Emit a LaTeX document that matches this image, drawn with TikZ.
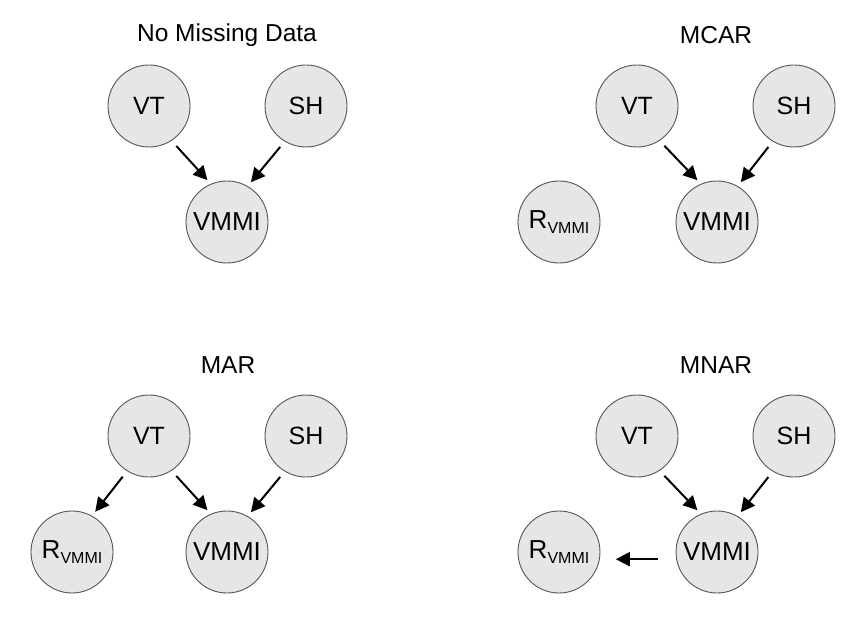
\documentclass[tikz,border=0pt]{standalone}
\usepackage{fontspec}
\setmainfont{Liberation Sans}
\usetikzlibrary{arrows.meta}
\definecolor{nodefill}{HTML}{E6E6E8}
\definecolor{nodeline}{HTML}{555555}
\tikzset{
  var/.style={circle, draw=nodeline, line width=0.9pt, fill=nodefill, minimum size=82pt, inner sep=0pt, font=\fontsize{25}{28}\selectfont},
  big/.style={font=\fontsize{26}{29}\selectfont},
  title/.style={font=\fontsize{24.5}{27}\selectfont},
  edge/.style={line width=2pt, -{Triangle[length=14pt,width=14pt]}}
}
\newcommand{\rvmmi}{R\raisebox{-5pt}{\fontsize{16}{17}\selectfont VMMI}}

\begin{document}
\begin{tikzpicture}[x=1pt, y=-1pt]
    \useasboundingbox (0,0) rectangle (866,617);
    %the titles
    \node[title] (t1) at (227,35) {No Missing Data};
    \node[title] (t2) at (716,35) {MCAR};
    \node[title] (t3) at (228,365) {MAR};
    \node[title] (t4) at (716,365) {MNAR};
    %no missing data
    \node[var] (vt1) at (149,106) {VT};
    \node[var] (sh1) at (306,106) {SH};
    \node[var, big] (vmmi1) at (227,222) {VMMI};
    %mcar
    \node[var] (vt2) at (637,106) {VT};
    \node[var] (sh2) at (794,106) {SH};
    \node[var, big] (vmmi2) at (717,222) {VMMI};
    \node[var, big] (r2) at (559,222) {\rvmmi};
    %mar
    \node[var] (vt3) at (149,436) {VT};
    \node[var] (sh3) at (306,436) {SH};
    \node[var, big] (vmmi3) at (227,552) {VMMI};
    \node[var, big] (r3) at (72,552) {\rvmmi};
    %mnar
    \node[var] (vt4) at (637,436) {VT};
    \node[var] (sh4) at (794,436) {SH};
    \node[var, big] (vmmi4) at (717,552) {VMMI};
    \node[var, big] (r4) at (559,552) {\rvmmi};
    %the arrows
    \draw[edge, shorten <=7pt, shorten >=5pt] (vt1.-57) -- (vmmi1.113);
    \draw[edge, shorten <=7pt, shorten >=5pt] (sh1.-121) -- (vmmi1.60);
    \draw[edge, shorten <=7pt, shorten >=5pt] (vt2.-57) -- (vmmi2.113);
    \draw[edge, shorten <=7pt, shorten >=5pt] (sh2.-121) -- (vmmi2.60);
    \draw[edge, shorten <=7pt, shorten >=5pt] (vt3.-57) -- (vmmi3.113);
    \draw[edge, shorten <=7pt, shorten >=5pt] (sh3.-121) -- (vmmi3.60);
    \draw[edge, shorten <=7pt, shorten >=5pt] (vt3.-122) -- (r3.61);
    \draw[edge, shorten <=7pt, shorten >=5pt] (vt4.-57) -- (vmmi4.113);
    \draw[edge, shorten <=7pt, shorten >=5pt] (sh4.-121) -- (vmmi4.60);
    \draw[edge, shorten <=18pt, shorten >=16pt] (vmmi4.190) -- (r4.-10);
\end{tikzpicture}
\end{document}
